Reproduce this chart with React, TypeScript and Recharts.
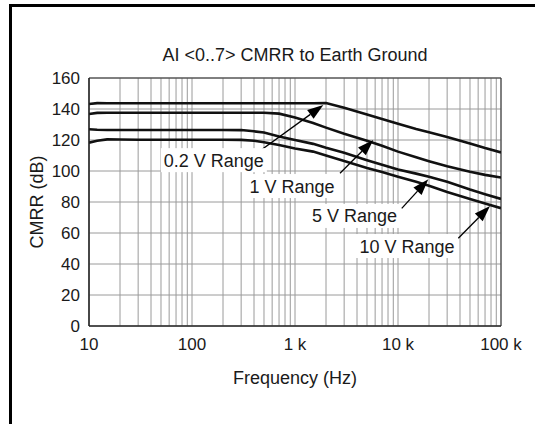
import { LineChart, Line, XAxis, YAxis, CartesianGrid, ReferenceLine, ReferenceDot, ReferenceArea } from "recharts"

// frequency points (Hz) and CMRR (dB)
const freq = [10, 12, 15, 20, 30, 50, 100, 200, 300, 400, 500, 700, 1000, 1500, 2000, 3000, 5000, 7000, 10000, 15000, 20000, 30000, 50000, 70000, 100000]
const range02 = [143.2, 143.8, 143.7, 143.7, 143.7, 143.7, 143.7, 143.7, 143.7, 143.7, 143.7, 143.7, 143.7, 143.7, 143.8, 140.8, 136.5, 133.5, 130.5, 127.1, 125, 122, 117.8, 114.8, 112]
const range1 = [136.8, 137.5, 137.6, 137.6, 137.6, 137.6, 137.6, 137.6, 137.6, 137.6, 137.6, 137, 134.5, 131, 128, 124, 119.5, 116.3, 112.5, 108.8, 106.3, 103, 99.5, 97.5, 95.8]
const range5 = [126.9, 126.6, 126.5, 126.5, 126.5, 126.5, 126.5, 126.5, 126.4, 125.6, 124.8, 122.3, 120, 117.5, 115, 111.8, 107, 104, 101, 98.3, 96.3, 93, 88, 85, 82]
const range10 = [118.3, 119.5, 120.4, 120.3, 120.2, 120.2, 120.2, 120.2, 120.1, 119.5, 118.6, 116.8, 114.5, 112.5, 110, 106.5, 102, 99.3, 96.3, 93, 90.5, 86.5, 82, 79, 76]

const data = freq.map((f, i) => ({ f, r02: range02[i], r1: range1[i], r5: range5[i], r10: range10[i] }))

const decadeTicks = [10, 100, 1000, 10000, 100000]
const decadeLabels = ["10", "100", "1 k", "10 k", "100 k"]
const gridTicks = [
  10, 20, 30, 40, 50, 60, 70, 80, 90,
  100, 200, 300, 400, 500, 600, 700, 800, 900,
  1000, 2000, 3000, 4000, 5000, 6000, 7000, 8000, 9000,
  10000, 20000, 30000, 40000, 50000, 60000, 70000, 80000, 90000,
  100000,
]
const yTicks = [0, 20, 40, 60, 80, 100, 120, 140, 160]

// callouts: label text, label centre, arrow tail, arrow head (Hz, dB)
const calloutText = ["0.2 V Range", "1 V Range", "5 V Range", "10 V Range"]
const calloutAt = [[163, 107], [935, 90.3], [3780, 71], [12230, 51.6]]
const arrowTail = [[428, 111.6], [2735, 98.5], [10870, 75.9], [38500, 56.6]]
const arrowHead = [[1883, 142.6], [5754, 120], [19700, 94.6], [78200, 77.4]]
const boxWidth = [106, 92, 92, 102]

const font = "'Liberation Sans', Arial, Helvetica, sans-serif"
const ink = "#1a1a1a"

function Arrow(p: any) {
  const { x1, y1, x2, y2 } = p
  const dx = x2 - x1
  const dy = y2 - y1
  const len = Math.hypot(dx, dy) || 1
  const ux = dx / len
  const uy = dy / len
  const hl = 16
  const hw = 5.5
  const bx = x2 - ux * hl
  const by = y2 - uy * hl
  return (
    <g>
      <line x1={x1} y1={y1} x2={bx} y2={by} stroke="#000" strokeWidth={1.3} />
      <polygon points={`${x2},${y2} ${bx - uy * hw},${by + ux * hw} ${bx + uy * hw},${by - ux * hw}`} fill="#000" />
    </g>
  )
}

const calloutLabel = (text: string, w: number) => (p: any) => {
  const { cx, cy } = p
  return (
    <g>
      <rect x={cx - w / 2} y={cy - 12} width={w} height={24} fill="#fff" />
      <text x={cx} y={cy + 6.5} textAnchor="middle" fontSize={18} fontFamily={font} fill={ink}>
        {text}
      </text>
    </g>
  )
}

export default function App() {
  return (
    <div style={{ position: "absolute", left: 0, top: 0, width: 535, height: 424, overflow: "hidden", background: "#fff" }}>
      <div style={{ position: "absolute", left: 9, top: 4, width: 540, height: 440, borderTop: "3px solid #000", borderLeft: "3px solid #000" }} />
      <div style={{ position: "absolute", left: 0, top: 0 }}>
        <LineChart width={535} height={424} data={data} margin={{ top: 78, right: 34, bottom: 68, left: 0 }} style={{ fontFamily: font }}>
          <CartesianGrid stroke="#9a9a9a" strokeWidth={1} />
          <XAxis
            dataKey="f"
            type="number"
            scale="log"
            domain={[10, 100000]}
            allowDataOverflow
            ticks={gridTicks}
            interval={0}
            height={30}
            tickLine={false}
            tickMargin={6}
            axisLine={{ stroke: "#222", strokeWidth: 1.2 }}
            tick={{ fill: ink, fontSize: 17, fontFamily: font }}
            tickFormatter={(v: number) => {
              const i = decadeTicks.indexOf(v)
              return i >= 0 ? decadeLabels[i] : ""
            }}
          />
          <YAxis
            type="number"
            domain={[0, 160]}
            ticks={yTicks}
            interval={0}
            width={89}
            tickLine={false}
            tickMargin={3}
            axisLine={{ stroke: "#222", strokeWidth: 1.2 }}
            tick={{ fill: ink, fontSize: 17, fontFamily: font }}
          />
          <ReferenceArea x1={10} x2={100000} y1={0} y2={160} fill="none" stroke="#333" strokeWidth={1} />
          <Line dataKey="r02" stroke="#111" strokeWidth={2.6} dot={false} isAnimationActive={false} />
          <Line dataKey="r1" stroke="#111" strokeWidth={2.6} dot={false} isAnimationActive={false} />
          <Line dataKey="r5" stroke="#111" strokeWidth={2.6} dot={false} isAnimationActive={false} />
          <Line dataKey="r10" stroke="#111" strokeWidth={2.6} dot={false} isAnimationActive={false} />
          {calloutText.map((t, i) => (
            <ReferenceLine
              key={"a" + i}
              segment={[
                { x: arrowTail[i][0], y: arrowTail[i][1] },
                { x: arrowHead[i][0], y: arrowHead[i][1] },
              ]}
              shape={Arrow}
            />
          ))}
          {calloutText.map((t, i) => (
            <ReferenceDot key={"l" + i} x={calloutAt[i][0]} y={calloutAt[i][1]} r={0} shape={calloutLabel(t, boxWidth[i])} />
          ))}
        </LineChart>
      </div>
      <svg width={535} height={424} style={{ position: "absolute", left: 0, top: 0, pointerEvents: "none" }}>
        <text x={295} y={61} textAnchor="middle" fontSize={18} fontFamily={font} fill={ink}>
          AI &lt;0..7&gt; CMRR to Earth Ground
        </text>
        <text x={43} y={202} textAnchor="middle" fontSize={18} fontFamily={font} fill={ink} transform="rotate(-90 43 202)">
          CMRR (dB)
        </text>
        <text x={295} y={384} textAnchor="middle" fontSize={18} fontFamily={font} fill={ink}>
          Frequency (Hz)
        </text>
      </svg>
    </div>
  )
}
